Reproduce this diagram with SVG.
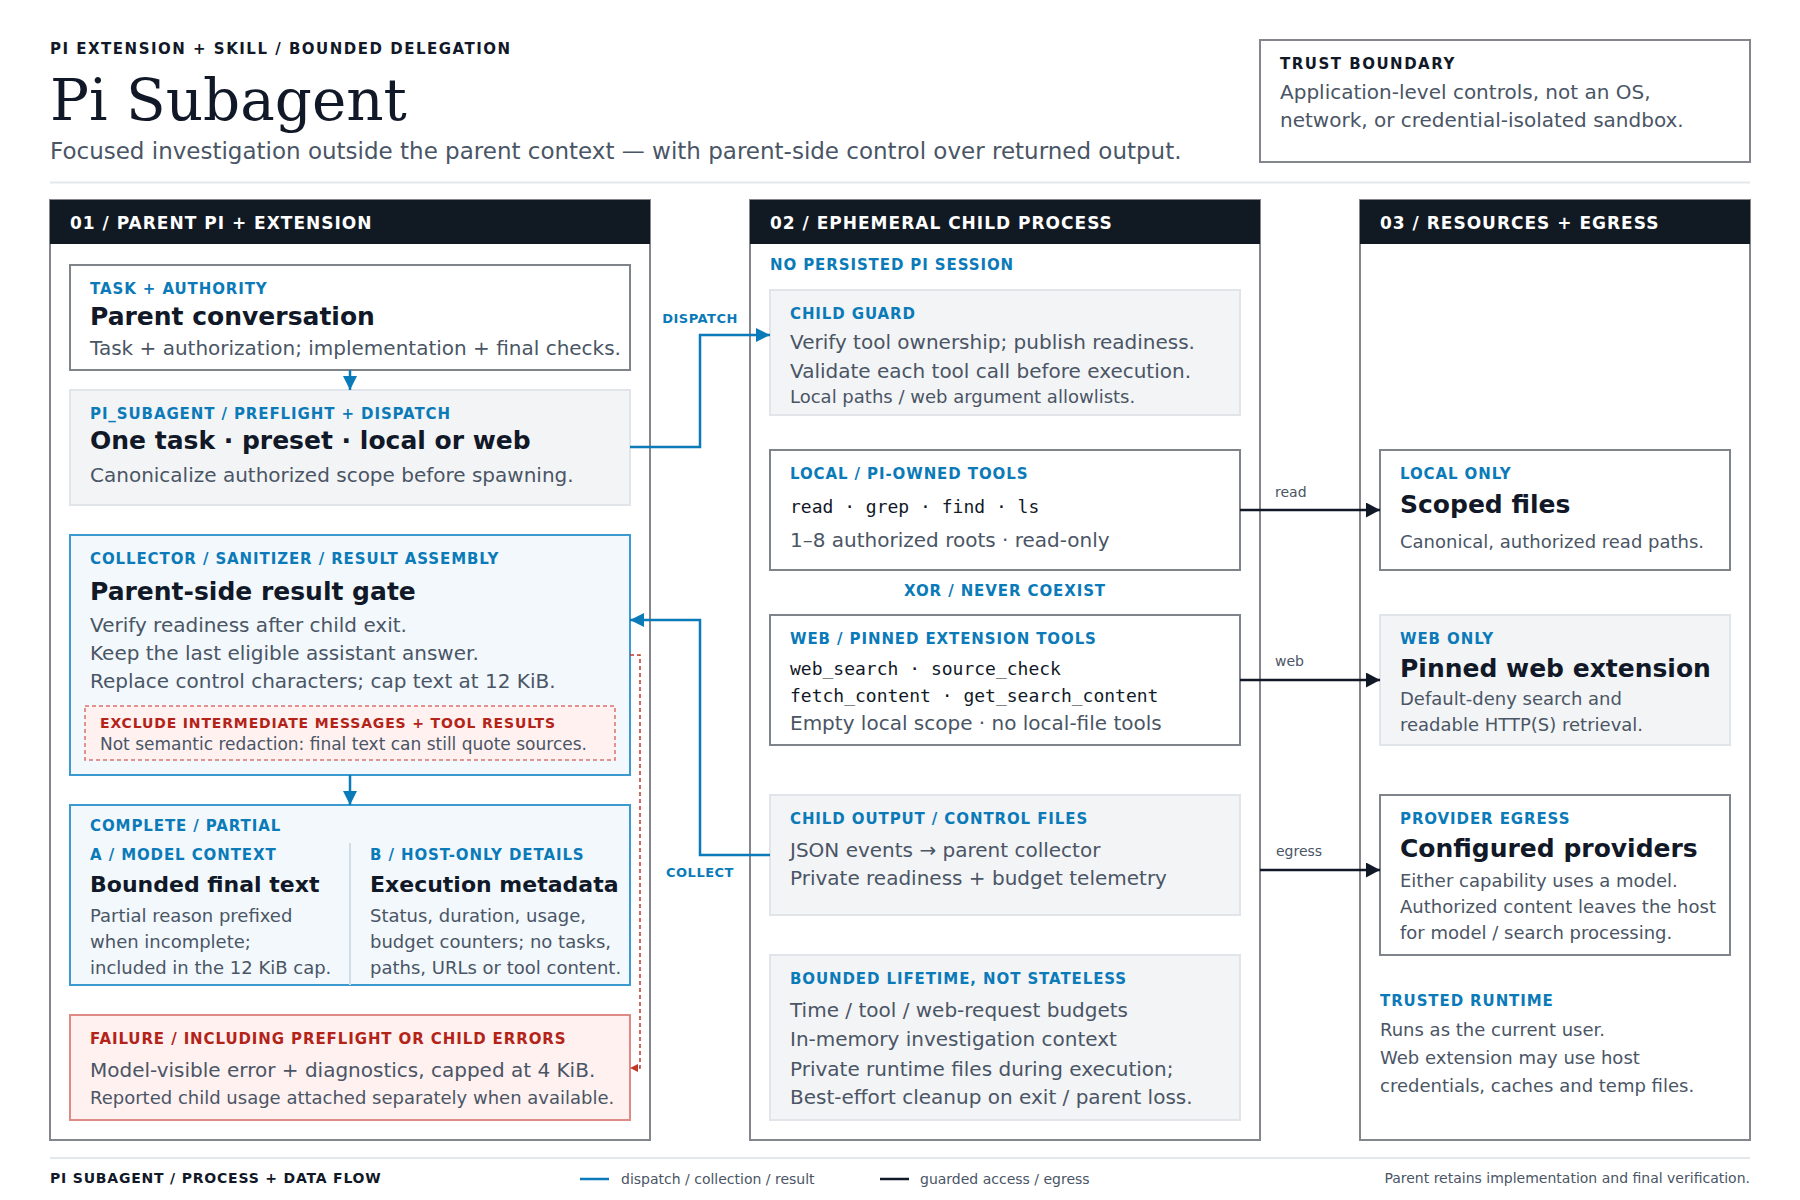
<svg xmlns="http://www.w3.org/2000/svg" width="1800" height="1200" viewBox="0 0 1800 1200">
<style>
text{font-family:"DejaVu Sans",Verdana,sans-serif}
.eyeTop{font-size:15px;font-weight:700;letter-spacing:1.5px;fill:#111827}
.title{font-family:"DejaVu Serif","Liberation Serif",serif;font-size:58px;fill:#111827}
.sub{font-size:23px;fill:#4a5565}
.colh{font-size:17px;font-weight:700;letter-spacing:1px;fill:#ffffff}
.eb{font-size:15px;font-weight:700;letter-spacing:0.9px;fill:#0a7ab8}
.ebr{font-size:15px;font-weight:700;letter-spacing:0.9px;fill:#b42318}
.ebrs{font-size:14px;font-weight:700;letter-spacing:0.85px;fill:#b42318}
.h25{font-size:25px;font-weight:700;fill:#111827}
.h22{font-size:22px;font-weight:700;fill:#111827}
.b20{font-size:20px;fill:#4a5565}
.b18{font-size:18px;fill:#4a5565}
.b17{font-size:17px;fill:#4a5565}
.mono{font-family:"DejaVu Sans Mono","Liberation Mono",monospace;font-size:18px;fill:#111827}
.lbl{font-size:14px;fill:#4a5565}
.clbl{font-size:13px;font-weight:700;letter-spacing:0.5px;fill:#0a7ab8}
.foot{font-size:14px;font-weight:700;letter-spacing:0.8px;fill:#111827}
.col{fill:#ffffff;stroke:#83878d;stroke-width:2}
.colbar{fill:#111a23}
.nw{fill:#ffffff;stroke:#7f848a;stroke-width:2}
.ng{fill:#f3f4f6;stroke:#e1e4e8;stroke-width:2}
.nb{fill:#f2f8fc;stroke:#3b9bd0;stroke-width:2}
.nr{fill:#fef1f0;stroke:#e08a86;stroke-width:2}
.nrd{fill:#fef1f0;stroke:#d9736d;stroke-width:1.5;stroke-dasharray:4 3}
.cb{fill:none;stroke:#0a7ab8;stroke-width:2.5}
.ck{fill:none;stroke:#111827;stroke-width:2.5}
.cr{fill:none;stroke:#c0392b;stroke-width:1.5;stroke-dasharray:4 3}
</style>
<defs>
<marker id="ab" markerUnits="userSpaceOnUse" markerWidth="15" markerHeight="15" refX="14" refY="7" orient="auto"><path d="M0,0 L14,7 L0,14 z" fill="#0a7ab8"/></marker>
<marker id="ak" markerUnits="userSpaceOnUse" markerWidth="15" markerHeight="15" refX="14" refY="7.5" orient="auto"><path d="M0,0 L14,7.5 L0,15 z" fill="#111827"/></marker>
<marker id="ar" markerUnits="userSpaceOnUse" markerWidth="9" markerHeight="9" refX="8" refY="4" orient="auto"><path d="M0,0 L8,4 L0,8 z" fill="#c0392b"/></marker>
</defs>
<rect width="1800" height="1200" fill="#ffffff"/>

<g id="header">
<text class="eyeTop" x="50" y="54">PI EXTENSION + SKILL / BOUNDED DELEGATION</text>
<text class="title" x="50" y="120">Pi Subagent</text>
<text class="sub" x="50" y="159">Focused investigation outside the parent context — with parent-side control over returned output.</text>
<line x1="50" y1="182.5" x2="1750" y2="182.5" stroke="#e4e7eb" stroke-width="2"/>
</g>

<g id="trust-boundary">
<rect x="1260" y="40" width="490" height="122" fill="#ffffff" stroke="#83878d" stroke-width="2"/>
<text class="eyeTop" x="1280" y="69">TRUST BOUNDARY</text>
<text class="b20" x="1280" y="99">Application-level controls, not an OS,</text>
<text class="b20" x="1280" y="127">network, or credential-isolated sandbox.</text>
</g>

<g id="col1">
<rect class="col" x="50" y="200" width="600" height="940"/>
<rect class="colbar" x="50" y="200" width="600" height="44"/>
<text class="colh" x="70" y="229">01 / PARENT PI + EXTENSION</text>
</g>
<g id="col2">
<rect class="col" x="750" y="200" width="510" height="940"/>
<rect class="colbar" x="750" y="200" width="510" height="44"/>
<text class="colh" x="770" y="229">02 / EPHEMERAL CHILD PROCESS</text>
<text class="eb" x="770" y="270">NO PERSISTED PI SESSION</text>
<text class="eb" x="1005" y="596" text-anchor="middle">XOR / NEVER COEXIST</text>
</g>
<g id="col3">
<rect class="col" x="1360" y="200" width="390" height="940"/>
<rect class="colbar" x="1360" y="200" width="390" height="44"/>
<text class="colh" x="1380" y="229">03 / RESOURCES + EGRESS</text>
</g>

<g id="parent-conversation">
<rect class="nw" x="70" y="265" width="560" height="105"/>
<text class="eb" x="90" y="294">TASK + AUTHORITY</text>
<text class="h25" x="90" y="325">Parent conversation</text>
<text class="b20" x="90" y="355">Task + authorization; implementation + final checks.</text>
</g>

<g id="preflight">
<rect class="ng" x="70" y="390" width="560" height="115"/>
<text class="eb" x="90" y="419">PI_SUBAGENT / PREFLIGHT + DISPATCH</text>
<text class="h25" x="90" y="449">One task · preset · local or web</text>
<text class="b20" x="90" y="482">Canonicalize authorized scope before spawning.</text>
</g>

<g id="result-gate">
<rect class="nb" x="70" y="535" width="560" height="240"/>
<text class="eb" x="90" y="564">COLLECTOR / SANITIZER / RESULT ASSEMBLY</text>
<text class="h25" x="90" y="600">Parent-side result gate</text>
<text class="b20" x="90" y="632">Verify readiness after child exit.</text>
<text class="b20" x="90" y="660">Keep the last eligible assistant answer.</text>
<text class="b20" x="90" y="688">Replace control characters; cap text at 12 KiB.</text>
<rect class="nrd" x="85" y="706" width="530" height="54"/>
<text class="ebrs" x="100" y="728">EXCLUDE INTERMEDIATE MESSAGES + TOOL RESULTS</text>
<text class="b17" x="100" y="750">Not semantic redaction: final text can still quote sources.</text>
</g>

<g id="complete-partial">
<rect class="nb" x="70" y="805" width="560" height="180"/>
<line x1="350" y1="843" x2="350" y2="985" stroke="#d3dde6" stroke-width="2"/>
<text class="eb" x="90" y="831">COMPLETE / PARTIAL</text>
<text class="eb" x="90" y="860">A / MODEL CONTEXT</text>
<text class="eb" x="370" y="860">B / HOST-ONLY DETAILS</text>
<text class="h22" x="90" y="892">Bounded final text</text>
<text class="h22" x="370" y="892">Execution metadata</text>
<text class="b18" x="90" y="922">Partial reason prefixed</text>
<text class="b18" x="90" y="948">when incomplete;</text>
<text class="b18" x="90" y="974">included in the 12 KiB cap.</text>
<text class="b18" x="370" y="922">Status, duration, usage,</text>
<text class="b18" x="370" y="948">budget counters; no tasks,</text>
<text class="b18" x="370" y="974">paths, URLs or tool content.</text>
</g>

<g id="failure">
<rect class="nr" x="70" y="1015" width="560" height="105"/>
<text class="ebr" x="90" y="1044">FAILURE / INCLUDING PREFLIGHT OR CHILD ERRORS</text>
<text class="b20" x="90" y="1077">Model-visible error + diagnostics, capped at 4 KiB.</text>
<text class="b18" x="90" y="1104">Reported child usage attached separately when available.</text>
</g>

<g id="child-guard">
<rect class="ng" x="770" y="290" width="470" height="125"/>
<text class="eb" x="790" y="319">CHILD GUARD</text>
<text class="b20" x="790" y="349">Verify tool ownership; publish readiness.</text>
<text class="b20" x="790" y="378">Validate each tool call before execution.</text>
<text class="b18" x="790" y="403">Local paths / web argument allowlists.</text>
</g>

<g id="local-tools">
<rect class="nw" x="770" y="450" width="470" height="120"/>
<text class="eb" x="790" y="479">LOCAL / PI-OWNED TOOLS</text>
<text class="mono" x="790" y="513">read · grep · find · ls</text>
<text class="b20" x="790" y="547">1–8 authorized roots · read-only</text>
</g>

<g id="web-tools">
<rect class="nw" x="770" y="615" width="470" height="130"/>
<text class="eb" x="790" y="644">WEB / PINNED EXTENSION TOOLS</text>
<text class="mono" x="790" y="675">web_search · source_check</text>
<text class="mono" x="790" y="702">fetch_content · get_search_content</text>
<text class="b20" x="790" y="730">Empty local scope · no local-file tools</text>
</g>

<g id="child-output">
<rect class="ng" x="770" y="795" width="470" height="120"/>
<text class="eb" x="790" y="824">CHILD OUTPUT / CONTROL FILES</text>
<text class="b20" x="790" y="857">JSON events → parent collector</text>
<text class="b20" x="790" y="885">Private readiness + budget telemetry</text>
</g>

<g id="bounded-lifetime">
<rect class="ng" x="770" y="955" width="470" height="165"/>
<text class="eb" x="790" y="984">BOUNDED LIFETIME, NOT STATELESS</text>
<text class="b20" x="790" y="1017">Time / tool / web-request budgets</text>
<text class="b20" x="790" y="1046">In-memory investigation context</text>
<text class="b20" x="790" y="1076">Private runtime files during execution;</text>
<text class="b20" x="790" y="1104">Best-effort cleanup on exit / parent loss.</text>
</g>

<g id="scoped-files">
<rect class="nw" x="1380" y="450" width="350" height="120"/>
<text class="eb" x="1400" y="479">LOCAL ONLY</text>
<text class="h25" x="1400" y="513">Scoped files</text>
<text class="b18" x="1400" y="548">Canonical, authorized read paths.</text>
</g>

<g id="web-extension">
<rect class="ng" x="1380" y="615" width="350" height="130"/>
<text class="eb" x="1400" y="644">WEB ONLY</text>
<text class="h25" x="1400" y="677">Pinned web extension</text>
<text class="b18" x="1400" y="705">Default-deny search and</text>
<text class="b18" x="1400" y="731">readable HTTP(S) retrieval.</text>
</g>

<g id="providers">
<rect class="nw" x="1380" y="795" width="350" height="160"/>
<text class="eb" x="1400" y="824">PROVIDER EGRESS</text>
<text class="h25" x="1400" y="857">Configured providers</text>
<text class="b18" x="1400" y="887">Either capability uses a model.</text>
<text class="b18" x="1400" y="913">Authorized content leaves the host</text>
<text class="b18" x="1400" y="939">for model / search processing.</text>
</g>

<g id="trusted-runtime">
<text class="eb" x="1380" y="1006">TRUSTED RUNTIME</text>
<text class="b18" x="1380" y="1036">Runs as the current user.</text>
<text class="b18" x="1380" y="1064">Web extension may use host</text>
<text class="b18" x="1380" y="1092">credentials, caches and temp files.</text>
</g>

<g id="connectors">
<path class="cb" d="M350,370 V390" marker-end="url(#ab)"/>
<path class="cb" d="M630,447 H700 V335 H770" marker-end="url(#ab)"/>
<text class="clbl" x="700" y="323" text-anchor="middle">DISPATCH</text>
<path class="cb" d="M770,855 H700 V620 H630" marker-end="url(#ab)"/>
<text class="clbl" x="700" y="877" text-anchor="middle">COLLECT</text>
<path class="cb" d="M350,775 V805" marker-end="url(#ab)"/>
<path class="cr" d="M630,655 H640 V1068 H630" marker-end="url(#ar)"/>
<path class="ck" d="M1240,510 H1380" marker-end="url(#ak)"/>
<text class="lbl" x="1275" y="497">read</text>
<path class="ck" d="M1240,680 H1380" marker-end="url(#ak)"/>
<text class="lbl" x="1275" y="666">web</text>
<path class="ck" d="M1260,870 H1380" marker-end="url(#ak)"/>
<text class="lbl" x="1276" y="856">egress</text>
</g>

<g id="footer">
<line x1="50" y1="1158" x2="1750" y2="1158" stroke="#e4e7eb" stroke-width="2"/>
<text class="foot" x="50" y="1183">PI SUBAGENT / PROCESS + DATA FLOW</text>
<line x1="580" y1="1179" x2="609" y2="1179" stroke="#0a7ab8" stroke-width="2.5"/>
<text class="lbl" x="621" y="1184">dispatch / collection / result</text>
<line x1="880" y1="1179" x2="909" y2="1179" stroke="#111827" stroke-width="2.5"/>
<text class="lbl" x="920" y="1184">guarded access / egress</text>
<text class="lbl" x="1750" y="1183" text-anchor="end">Parent retains implementation and final verification.</text>
</g>
</svg>
